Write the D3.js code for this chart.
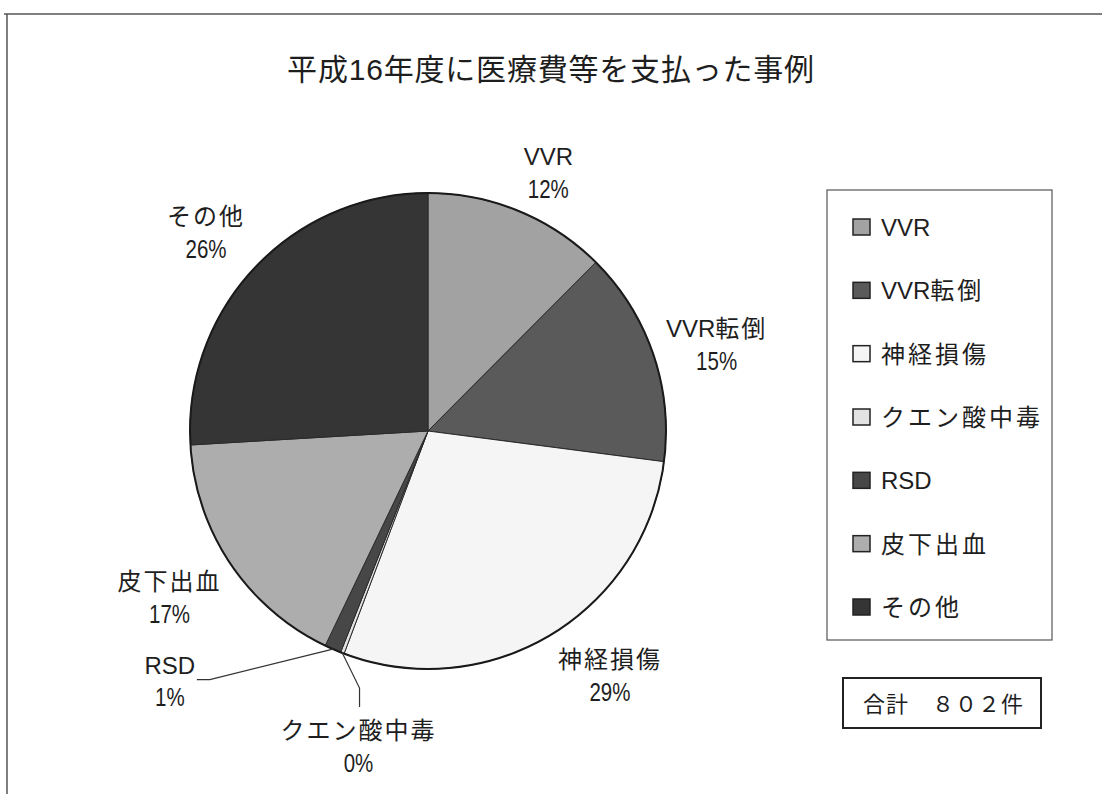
<!DOCTYPE html>
<html>
<head>
<meta charset="utf-8">
<script src="https://cdn.jsdelivr.net/npm/d3@7"></script>
<style>
  body { margin: 0; background: #fff; }
  svg { display: block; }
  .jp { font-family: "Liberation Sans", "Noto Sans CJK JP", sans-serif; fill: #1e1e1e; }
  .pct { font-family: "Liberation Sans", sans-serif; fill: #1e1e1e; }
</style>
</head>
<body>
<div id="chart"></div>
<script>
/* 平成16年度に医療費等を支払った事例 - pie chart */

// data (counts, total 802)
const categories = ["VVR", "VVR転倒", "神経損傷", "クエン酸中毒", "RSD", "皮下出血", "その他"];
const counts = [100, 117, 230, 2, 9, 136, 208];
const colours = ["#a2a2a2", "#5a5a5a", "#f5f5f5", "#e2e2e2", "#474747", "#adadad", "#353535"];
const title = "平成16年度に医療費等を支払った事例";
const totalText = "合計　８０２件";

const width = 1102,
    height = 794;

const cx = 428, cy = 431, radius = 238;

// nudges for each slice label, relative to a point just outside the pie
const labelNudge = {
    "VVR": [18, -11], "VVR転倒": [35, 0], "神経損傷": [44, 14],
    "クエン酸中毒": [27, 65], "RSD": [-151, 4], "皮下出血": [-36, 17], "その他": [-27, -15]
};

const data = categories.map((c, i) => ({name: c, value: counts[i], colour: colours[i]}));
const total = d3.sum(counts);

// writes text as runs, spacing only the Japanese characters
function spaced(sel, spacing) {
    sel.each(function(d) {
        const t = d3.select(this);
        const runs = (t.attr("data-label") || "").match(/[\x00-\x7f]+|[^\x00-\x7f]+/g) || [];
        runs.forEach(r => t.append("tspan")
            .attr("letter-spacing", /^[\x00-\x7f]+$/.test(r) ? 0 : spacing)
            .text(r));
    });
}

const svg = d3.select("#chart")
    .append("svg")
    .attr("width", width)
    .attr("height", height);

// frame (top and left edge of the scanned page)
svg.append("path")
    .attr("d", `M4,14 H${width} M7,14 V${height}`)
    .attr("fill", "none")
    .attr("stroke", "#555")
    .attr("stroke-width", 1.5);

svg.append("text") // title
    .attr("class", "jp")
    .attr("x", 551)
    .attr("y", 69)
    .attr("text-anchor", "middle")
    .attr("dominant-baseline", "central")
    .attr("font-size", 30)
    .attr("letter-spacing", 0.8)
    .text(title);

const pie = d3.pie().value(d => d.value).sort(null);
const arc = d3.arc().innerRadius(0).outerRadius(radius);
const arcs = pie(data);

const g = svg.append("g").attr("transform", `translate(${cx},${cy})`);

g.selectAll("path.slice")
    .data(arcs)
    .join("path")
    .attr("class", "slice")
    .attr("d", arc)
    .attr("fill", d => d.data.colour)
    .attr("stroke", "#2a2a2a")
    .attr("stroke-width", 1);

g.append("circle") // outline
    .attr("r", radius)
    .attr("fill", "none")
    .attr("stroke", "#1a1a1a")
    .attr("stroke-width", 2);

// label positions
const mid = d => (d.startAngle + d.endAngle) / 2;
const polar = (a, r) => [Math.sin(a) * r, -Math.cos(a) * r];
arcs.forEach(d => {
    const p = polar(mid(d), radius + 30);
    const n = labelNudge[d.data.name];
    d.lx = p[0] + n[0];
    d.ly = p[1] + n[1];
});

// leader lines for the thin slices
const leader = {
    "RSD": d => [polar(mid(d), radius), [d.lx + 40, d.ly - 1], [d.lx + 27, d.ly - 1]],
    "クエン酸中毒": d => [polar(mid(d), radius), [d.lx + 1, d.ly - 58], [d.lx + 1, d.ly - 39]]
};
g.selectAll("path.leader")
    .data(arcs.filter(d => leader[d.data.name]))
    .join("path")
    .attr("class", "leader")
    .attr("d", d => d3.line()(leader[d.data.name](d)))
    .attr("fill", "none")
    .attr("stroke", "#333")
    .attr("stroke-width", 1.2);

const lab = g.selectAll("g.lab")
    .data(arcs)
    .join("g")
    .attr("class", "lab")
    .attr("transform", d => `translate(${d.lx},${d.ly})`);

lab.append("text")
    .attr("class", "jp")
    .attr("y", -16)
    .attr("text-anchor", "middle")
    .attr("dominant-baseline", "central")
    .attr("font-size", 24)
    .attr("data-label", d => d.data.name)
    .call(spaced, 2);

lab.append("text") // percentages in a narrow face
    .attr("class", "pct")
    .attr("transform", "translate(0,17) scale(0.82,1)")
    .attr("text-anchor", "middle")
    .attr("dominant-baseline", "central")
    .attr("font-size", 25)
    .text(d => d3.format(".0%")(d.data.value / total));

// legend
const legend = svg.append("g");
legend.append("rect")
    .attr("x", 827).attr("y", 190)
    .attr("width", 225).attr("height", 450)
    .attr("fill", "#fff")
    .attr("stroke", "#555")
    .attr("stroke-width", 1.2);

const ly = d3.scalePoint()
    .domain(categories)
    .range([227, 607]);

const item = legend.selectAll("g.item")
    .data(data)
    .join("g")
    .attr("class", "item")
    .attr("transform", d => `translate(853,${ly(d.name)})`);

item.append("rect")
    .attr("x", 0).attr("y", -8)
    .attr("width", 17).attr("height", 16)
    .attr("fill", d => d.colour)
    .attr("stroke", "#222")
    .attr("stroke-width", 1.5);

item.append("text")
    .attr("class", "jp")
    .attr("x", 28)
    .attr("dominant-baseline", "central")
    .attr("font-size", 24)
    .attr("data-label", d => d.name)
    .call(spaced, 3);

// total box
svg.append("rect")
    .attr("x", 843).attr("y", 678)
    .attr("width", 198).attr("height", 50)
    .attr("fill", "#fff")
    .attr("stroke", "#222")
    .attr("stroke-width", 2);

svg.append("text")
    .attr("class", "jp")
    .attr("x", 863)
    .attr("y", 704)
    .attr("dominant-baseline", "central")
    .attr("font-size", 22)
    .attr("letter-spacing", 1)
    .text(totalText);
</script>
</body>
</html>
